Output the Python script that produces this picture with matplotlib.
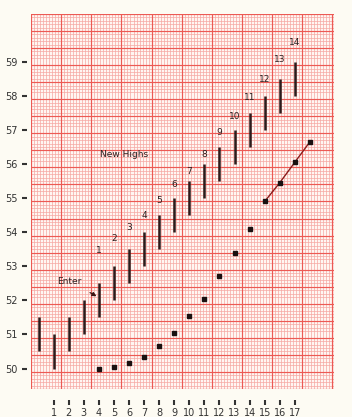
import matplotlib
matplotlib.use("Agg")
import matplotlib.pyplot as plt
from matplotlib.ticker import MultipleLocator, FixedLocator

# ---- data ----
days = list(range(0, 18))
lows = [50.5, 50.0, 50.5, 51.0, 51.5, 52.0, 52.5, 53.0, 53.5, 54.0,
        54.5, 55.0, 55.5, 56.0, 56.5, 57.0, 57.5, 58.0]
highs = [51.5, 51.0, 51.5, 52.0, 52.5, 53.0, 53.5, 54.0, 54.5, 55.0,
         55.5, 56.0, 56.5, 57.0, 57.5, 58.0, 58.5, 59.0]

new_high_days = [4, 5, 6, 7, 8, 9, 10, 11, 12, 13, 14, 15, 16, 17]
new_high_labels = ["1", "2", "3", "4", "5", "6", "7", "8", "9", "10",
                   "11", "12", "13", "14"]
new_high_label_y = [53.47, 53.82, 54.15, 54.5, 54.94, 55.41, 55.79, 56.29,
                    56.91, 57.38, 57.94, 58.47, 59.06, 59.56]

sar_days = [4, 5, 6, 7, 8, 9, 10, 11, 12, 13, 14]
sar_values = [50.0, 50.05, 50.15, 50.35, 50.65, 51.05, 51.55, 52.05, 52.7, 53.4, 54.1]

trend_days = [15, 16, 17, 18]
trend_values = [54.9, 55.45, 56.05, 56.65]

x_ticks = list(range(1, 18))
y_ticks = list(range(50, 60))

# ---- figure ----
fig = plt.figure(figsize=(3.52, 4.17), dpi=100)
fig.patch.set_facecolor("#fdfbf3")
ax = fig.add_axes([31 / 352, 1 - 389 / 417, 303 / 352, 375 / 417])
ax.set_facecolor("#fff6f2")
ax.set_xlim(-0.5, 19.6)
ax.set_ylim(49.4, 60.4)

# graph paper grid
ax.xaxis.set_minor_locator(MultipleLocator(0.2, offset=0.1))
ax.yaxis.set_minor_locator(MultipleLocator(0.1, offset=0.0))
ax.grid(which="minor", color="#f6a8a2", lw=0.5)
for xv in [-0.5 + 2 * k for k in range(11)]:
    ax.axvline(xv, color="#ec5a54", lw=0.85, zorder=0.6)
yv = 49.4
while yv <= 60.41:
    ax.axhline(yv, color="#ec5a54", lw=0.85, zorder=0.6)
    yv += 0.5
ax.axvline(19.6, color="#ec5a54", lw=0.85, zorder=0.6)
ax.set_axisbelow(True)

# ticks
ax.xaxis.set_major_locator(FixedLocator(x_ticks))
ax.yaxis.set_major_locator(FixedLocator(y_ticks))
ax.set_xticklabels([str(t) for t in x_ticks])
ax.set_yticklabels([str(t) for t in y_ticks])
ax.tick_params(which="minor", length=0)
ax.tick_params(axis="y", which="major", direction="out", length=3.5, width=1.5,
               color="#333333", labelsize=7, labelcolor="#333333", pad=3)
ax.tick_params(axis="x", which="major", direction="out", length=3.5, width=1.5,
               color="#333333", labelsize=7, labelcolor="#333333", pad=2)
ax.spines["left"].set_position(("outward", 3))
ax.spines["bottom"].set_position(("outward", 8))
for s in ax.spines.values():
    s.set_visible(False)

# range bars
ax.vlines(days, lows, highs, color="#2b1c1c", lw=1.8, zorder=3)

# new high labels
for d, lab, yl in zip(new_high_days, new_high_labels, new_high_label_y):
    ax.text(d, yl, lab, ha="center", va="center", fontsize=6.5,
            color="#2b2020", zorder=4)

# SAR dots
ax.plot(sar_days, sar_values, "s", ms=2.8, color="#1a1010", zorder=4)
ax.plot(trend_days, trend_values, "-", color="#8a1c1c", lw=1.0, zorder=3)
ax.plot(trend_days, trend_values, "s", ms=2.8, color="#1a1010", zorder=4)

# annotations
ax.text(5.65, 56.29, "New Highs", ha="center", va="center", fontsize=6.5,
        color="#2b2020", zorder=4)
ax.annotate("Enter", xy=(3.85, 52.12), xytext=(2.07, 52.56),
            ha="center", va="center", fontsize=6.5, color="#2b2020",
            arrowprops=dict(arrowstyle="-|>", color="#3a1515", lw=0.9,
                            mutation_scale=6, shrinkA=6, shrinkB=0),
            zorder=4)

fig.savefig("out.png", dpi=100, facecolor=fig.get_facecolor())
